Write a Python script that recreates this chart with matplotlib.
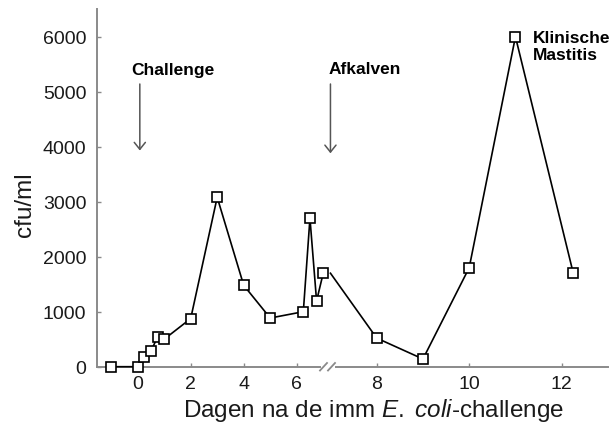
import matplotlib
matplotlib.use("Agg")
import matplotlib.pyplot as plt
from matplotlib.lines import Line2D

plt.rcParams['font.family'] = ['Liberation Sans', 'DejaVu Sans']
plt.rcParams['mathtext.fontset'] = 'custom'
plt.rcParams['mathtext.rm'] = 'Liberation Sans'
plt.rcParams['mathtext.it'] = 'Liberation Sans:italic'

# ---- data ----
days_before = [-1, 0, 0.25, 0.5, 0.75, 1, 2, 3, 4, 5, 6.25, 6.5, 6.75, 7]
cfu_before = [0, 0, 170, 280, 545, 500, 875, 3080, 1480, 885, 1000, 2700, 1195, 1700]
days_after = [7, 8, 9, 10, 11, 12.25]
cfu_after = [1700, 520, 140, 1800, 6000, 1700]
ticks_before = [0, 2, 4, 6]
ticks_after = [8, 10, 12]
yticks = [0, 1000, 2000, 3000, 4000, 5000, 6000]
challenge_day = 0.08
calving_day = 7.0

# ---- layout (pixels) ----
W, H = 615, 439
fig = plt.figure(figsize=(W / 100, H / 100), dpi=100)
x_spine, x_break, x_end = 96.7, 327.0, 608.0
y_base, y_top = 367.7, 10.2
# scales: left panel 26.5 px/day (0 at 137.7), right 46.25 px/day (8 at 376.7)
l0, lk = 137.7, 26.5
r8, rk = 376.7, 46.25

ax1 = fig.add_axes([x_spine / W, 1 - y_base / H, (x_break - x_spine) / W, (y_base - y_top) / H])
ax2 = fig.add_axes([x_break / W, 1 - y_base / H, (x_end - x_break) / W, (y_base - y_top) / H])
ax1.set_xlim((x_spine - l0) / lk, (x_break - l0) / lk)
ax2.set_xlim(8 + (x_break - r8) / rk, 8 + (x_end - r8) / rk)
for ax in (ax1, ax2):
    ax.set_ylim(0, 6500)
    ax.patch.set_alpha(0)
    ax.spines['top'].set_visible(False)
    ax.spines['right'].set_visible(False)
    ax.spines['bottom'].set_color('#8a8a8a')
    ax.spines['bottom'].set_linewidth(1.4)
    ax.tick_params(axis='x', direction='in', length=3, width=1, color='#8a8a8a',
                   labelsize=14, pad=6, labelcolor='#1a1a1a')
ax1.spines['left'].set_color('#8a8a8a')
ax1.spines['left'].set_linewidth(1.4)
ax1.tick_params(axis='y', direction='in', length=3, width=1, color='#8a8a8a',
                labelsize=14, pad=7.5, labelcolor='#1a1a1a')
ax2.spines['left'].set_visible(False)
ax2.tick_params(axis='y', left=False, labelleft=False)
ax1.spines['bottom'].set_bounds((x_spine - l0) / lk, (320 - l0) / lk)
ax2.spines['bottom'].set_bounds(8 + (336 - r8) / rk, 8 + (x_end - r8) / rk)
ax1.set_xticks(ticks_before)
ax2.set_xticks(ticks_after)
ax1.set_yticks(yticks)

style = dict(color='black', lw=1.2, marker='s', ms=6.5, mfc='white', mec='black',
             mew=1.2, clip_on=False, zorder=5)
ax1.plot(days_before, cfu_before, **style)
ax2.plot(days_after, cfu_after, markevery=list(range(1, len(days_after))), **style)

# break marks
for x0 in (320, 328):
    fig.add_artist(Line2D([x0 / W, (x0 + 7) / W], [1 - 371.5 / H, 1 - 364 / H],
                          color='#8a8a8a', lw=1.3, transform=fig.transFigure))

# arrows and annotations
aprops = dict(arrowstyle='->,head_length=0.5,head_width=0.4', color='#555555', lw=1.1,
              mutation_scale=10, shrinkA=0, shrinkB=0)
ax1.annotate('', xy=(challenge_day, 3930), xytext=(challenge_day, 5140), arrowprops=aprops)
ax2.annotate('', xy=(calving_day, 3880), xytext=(calving_day, 5140), arrowprops=aprops)
ax1.text(-0.25, 5400, 'Challenge', fontsize=12.5, fontweight='bold', ha='left', va='center')
ax2.text(6.95, 5420, 'Afkalven', fontsize=12.5, fontweight='bold', ha='left', va='center')
ax2.text(11.38, 5830, 'Klinische\nMastitis', fontsize=12.5, fontweight='bold',
         ha='left', va='center', linespacing=1.15)

fig.text(373.5 / W, 1 - 411 / H, r'Dagen na de imm $\mathit{E.\ coli}$-challenge',
         fontsize=17.5, ha='center', va='center', color='#1a1a1a')
fig.text(25 / W, 1 - 205 / H, 'cfu/ml', fontsize=17.5, rotation=90,
         ha='center', va='center', color='#1a1a1a')

fig.savefig('out.png', dpi=100)
